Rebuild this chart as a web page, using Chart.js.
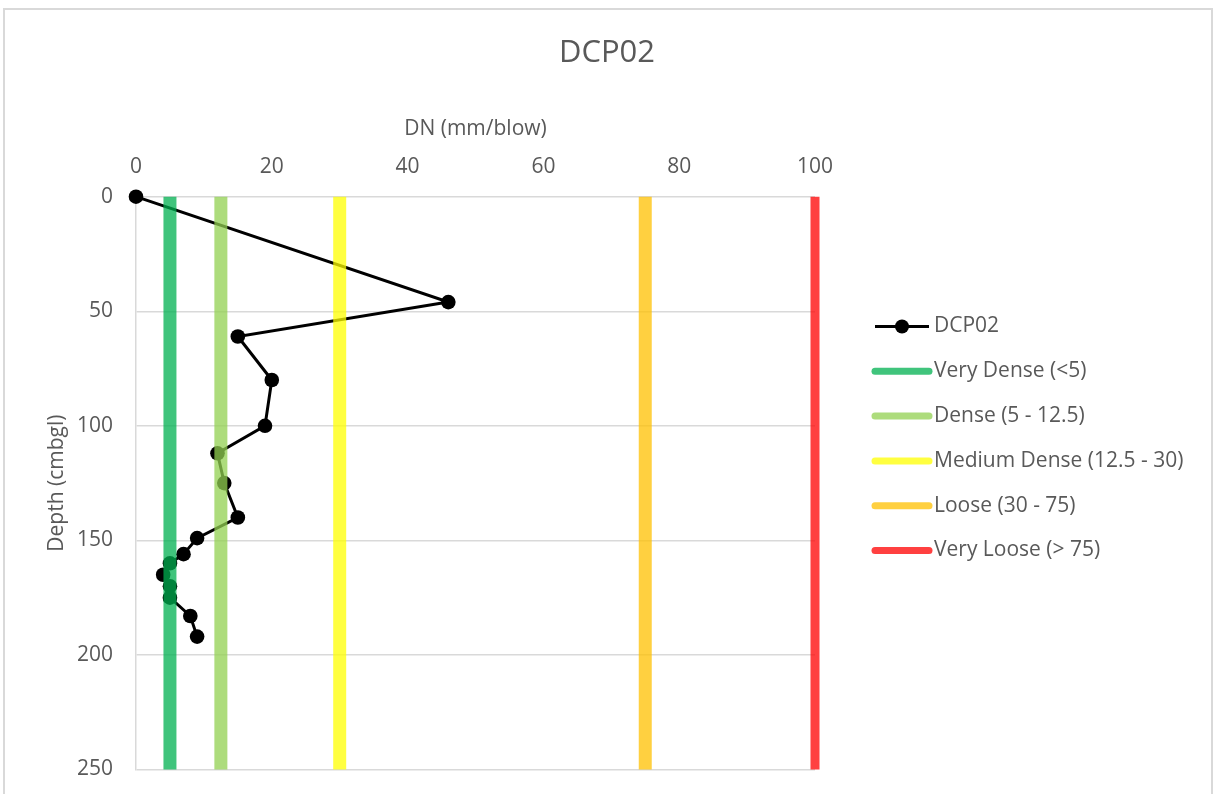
<!DOCTYPE html>
<html>
<head>
<meta charset="utf-8">
<script src="https://cdn.jsdelivr.net/npm/chart.js@4.4.1/dist/chart.umd.min.js"></script>
<style>
  html, body { margin: 0; padding: 0; background: #fff; }
  #wrap { position: relative; width: 1214px; height: 794px; }
  canvas { display: block; }
</style>
</head>
<body>
<div id="wrap"><canvas id="c" width="1214" height="794"></canvas></div>
<script>
// ---- Data ----
const chartTitle = 'DCP02';
const seriesLabel = 'DCP02';
const depths = [0, 46, 61, 80, 100, 112, 125, 140, 149, 156, 160, 165, 170, 175, 183, 192];
const dnValues = [0, 46, 15, 20, 19, 12, 13, 15, 9, 7, 5, 4, 5, 5, 8, 9];
const thresholdLabels = ['Very Dense (<5)', 'Dense (5 - 12.5)', 'Medium Dense (12.5 - 30)', 'Loose (30 - 75)', 'Very Loose (> 75)'];
const thresholdValues = [5, 12.5, 30, 75, 100];
const xTickValues = [0, 20, 40, 60, 80, 100];
const yTickValues = [0, 50, 100, 150, 200, 250];
const xAxisTitle = 'DN (mm/blow)';
const yAxisTitle = 'Depth (cmbgl)';

// ---- Styles ----
const thresholdColors = ['rgba(0,176,80,0.75)', 'rgba(146,208,80,0.75)', 'rgba(255,255,0,0.75)', 'rgba(255,192,0,0.75)', 'rgba(255,0,0,0.75)'];
const thresholdWidths = [13, 13, 13, 13, 9];
const FONT = '"Open Sans", "Noto Sans", sans-serif';
const TEXT = '#595959';
const GRID = '#d9d9d9';

const yMin = yTickValues[0], yMax = yTickValues[yTickValues.length - 1];

const datasets = [];
datasets.push({
  label: seriesLabel,
  data: dnValues.map((v, i) => ({ x: v, y: depths[i] })),
  showLine: true,
  borderColor: '#000',
  backgroundColor: '#000',
  borderWidth: 3,
  pointRadius: 7.3,
  pointHoverRadius: 7.3,
  pointBackgroundColor: '#000',
  pointBorderWidth: 0,
  tension: 0,
  clip: false,
  order: 1,
  legendKind: 'marker'
});
thresholdValues.forEach((v, i) => {
  datasets.push({
    label: thresholdLabels[i],
    data: [{ x: v, y: yMin }, { x: v, y: yMax }],
    showLine: true,
    borderColor: thresholdColors[i],
    backgroundColor: thresholdColors[i],
    borderWidth: thresholdWidths[i],
    borderCapStyle: 'butt',
    pointRadius: 0,
    pointHoverRadius: 0,
    clip: false,
    order: 0,
    legendKind: 'line'
  });
});

const frame = {
  id: 'frame',
  beforeDraw(chart) {
    const ctx = chart.ctx;
    ctx.save();
    ctx.fillStyle = '#fff';
    ctx.fillRect(0, 0, chart.width, chart.height);
    ctx.strokeStyle = GRID;
    ctx.lineWidth = 2;
    ctx.strokeRect(4, 9, 1208, 800);
    ctx.restore();
  }
};

const customLegend = {
  id: 'customLegend',
  afterDraw(chart) {
    const ctx = chart.ctx;
    const x0 = 875, x1 = 929, tx = 934, yStart = 326.5, step = 44.8;
    ctx.save();
    chart.data.datasets.forEach((ds, i) => {
      const y = yStart + i * step;
      ctx.beginPath();
      ctx.moveTo(x0, y);
      ctx.lineTo(x1, y);
      if (ds.legendKind === 'marker') {
        ctx.strokeStyle = ds.borderColor;
        ctx.lineWidth = 3;
        ctx.lineCap = 'butt';
        ctx.stroke();
        ctx.beginPath();
        ctx.fillStyle = ds.pointBackgroundColor;
        ctx.arc((x0 + x1) / 2, y, 7, 0, Math.PI * 2);
        ctx.fill();
      } else {
        ctx.strokeStyle = ds.borderColor;
        ctx.lineWidth = 7;
        ctx.lineCap = 'round';
        ctx.stroke();
      }
      ctx.fillStyle = TEXT;
      ctx.font = '21px ' + FONT;
      ctx.textBaseline = 'middle';
      ctx.textAlign = 'left';
      ctx.fillText(ds.label, tx, y);
    });
    ctx.restore();
  }
};

new Chart(document.getElementById('c'), {
  type: 'scatter',
  data: { datasets },
  plugins: [frame, customLegend],
  options: {
    responsive: false,
    animation: false,
    events: [],
    layout: { padding: { left: 0, right: 0, top: 0, bottom: 24.5 } },
    plugins: {
      legend: { display: false },
      tooltip: { enabled: false },
      title: {
        display: true,
        text: chartTitle,
        color: TEXT,
        font: { family: FONT, size: 31, weight: 'normal', lineHeight: 1.2 },
        padding: { top: 34.4, bottom: 40.7 }
      }
    },
    scales: {
      x: {
        type: 'linear',
        position: 'top',
        min: xTickValues[0],
        max: xTickValues[xTickValues.length - 1],
        afterBuildTicks(axis) { axis.ticks = xTickValues.map(v => ({ value: v })); },
        grid: { display: false, drawTicks: false },
        border: { display: false },
        ticks: { color: TEXT, padding: 17, font: { family: FONT, size: 21, lineHeight: 1.2 } },
        title: {
          display: true, text: xAxisTitle, color: TEXT,
          font: { family: FONT, size: 21, lineHeight: 1.2 },
          padding: { top: 4, bottom: -4 }
        }
      },
      y: {
        type: 'linear',
        reverse: true,
        min: yMin,
        max: yMax,
        afterBuildTicks(axis) { axis.ticks = yTickValues.map(v => ({ value: v })); },
        afterFit(axis) { axis.width = 136; axis.paddingTop = 0; axis.paddingBottom = 0; },
        grid: { color: GRID, lineWidth: 1.5, drawTicks: false },
        border: { display: true, color: GRID, width: 1.5 },
        ticks: { color: TEXT, padding: 23, font: { family: FONT, size: 21, lineHeight: 1.2 } },
        title: {
          display: true, text: yAxisTitle, color: TEXT,
          font: { family: FONT, size: 21, lineHeight: 1.2 },
          padding: { top: 44.4, bottom: 4 }
        }
      },
      yRight: {
        type: 'linear',
        position: 'right',
        min: 0,
        max: 1,
        display: true,
        afterFit(axis) { axis.width = 399; axis.paddingTop = 0; axis.paddingBottom = 0; },
        grid: { display: false, drawTicks: false },
        border: { display: false },
        ticks: { display: false },
        title: { display: false }
      }
    }
  }
});
</script>
</body>
</html>
